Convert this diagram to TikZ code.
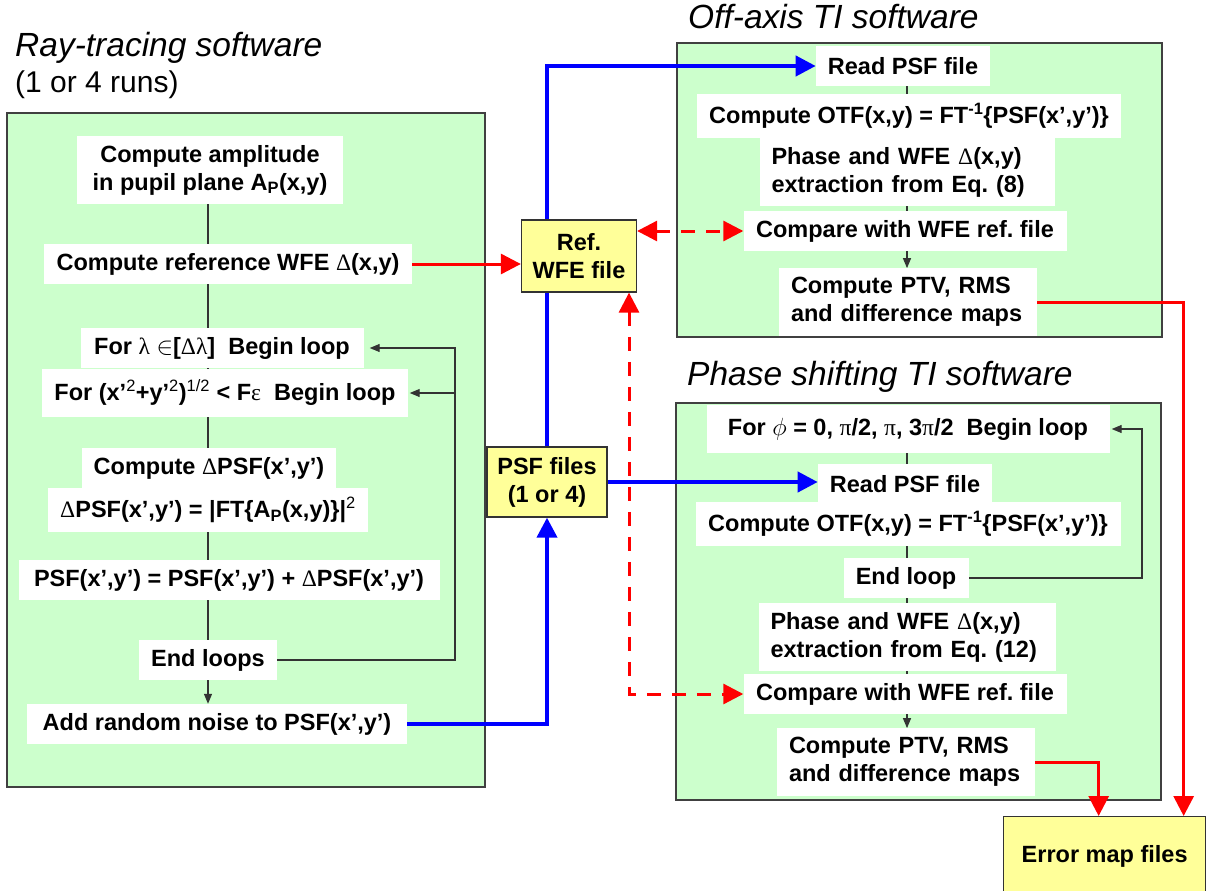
\documentclass[tikz,border=0pt]{standalone}
\usepackage{fontspec}
\setmainfont{Liberation Sans}
\newfontfamily\symf{Liberation Serif}
\usetikzlibrary{arrows.meta}
\frenchspacing

\pgfdeclarelayer{bg}
\pgfsetlayers{bg,main}

\definecolor{panelgreen}{RGB}{204,255,204}
\definecolor{fileyellow}{RGB}{255,255,153}
\definecolor{flowblue}{RGB}{0,0,255}
\definecolor{flowred}{RGB}{255,0,0}

% greek letters in a lighter serif face
\newcommand{\sy}[1]{{\symf\mdseries #1}}

\tikzset{
  panel/.style={draw=black!75, line width=1.5pt, fill=panelgreen},
  stepbox/.style={fill=white, inner xsep=12pt, inner ysep=9pt, minimum height=40pt,
    font=\fontsize{23.5}{28}\selectfont\bfseries},
  filebox/.style={draw=black!80, line width=1.3pt, fill=fileyellow, align=center,
    font=\fontsize{23.5}{28}\selectfont\bfseries},
  title/.style={anchor=west, inner sep=0pt, font=\fontsize{33.5}{36}\selectfont\itshape},
  link/.style={line width=1.2pt, black!80},
  linkarrow/.style={link, -{Triangle[length=10pt,width=8pt]}},
  bluearrow/.style={line width=4pt, flowblue, -{Triangle[length=20pt,width=20pt]}},
  redarrow/.style={line width=3pt, flowred, -{Triangle[length=20pt,width=20pt]}},
  reddashed/.style={line width=3pt, flowred, dash pattern=on 14pt off 11pt,
    {Triangle[length=20pt,width=20pt]}-{Triangle[length=20pt,width=20pt]}},
}

\begin{document}
\begin{tikzpicture}[x=1pt,y=-1pt]
  \useasboundingbox (0,0) rectangle (1210,891);

  % green panels
  \begin{pgfonlayer}{bg}
    \draw[panel] (7,113) rectangle (485,787);
    \draw[panel] (677,43) rectangle (1162,337);
    \draw[panel] (676,403) rectangle (1161,800);
  \end{pgfonlayer}

  % titles
  \node[title] (tray) at (15,48) {Ray-tracing software};
  \node[title, font=\fontsize{30}{34}\selectfont] (truns) at (15,85) {(1 or 4 runs)};
  \node[title] (toff) at (688,17) {Off-axis TI software};
  \node[title] (tpsi) at (687,377) {Phase shifting TI software};

  % vertical axes of the flow charts
  \coordinate (lspine) at (208,0);
  \coordinate (rspine) at (907,0);
  \coordinate (lloop) at (455,0);
  \coordinate (rloop) at (1142,0);
  \coordinate (dashx) at (629,0);

  % ray-tracing steps
  \node[stepbox, align=center, minimum width=266pt] (amp) at (210,170)
    {Compute amplitude\\in pupil plane A\textsubscript{P}(x,y)};
  \node[stepbox, minimum width=368pt] (ref) at (228,264) {Compute reference WFE \sy{Δ}(x,y)};
  \node[stepbox, minimum width=283pt, minimum height=39pt] (lam) at (222,348)
    {For \sy{λ} $\in$[\sy{Δλ}]\ \ Begin loop};
  \node[stepbox, minimum width=364pt, minimum height=48pt] (rho) at (225,393)
    {For (x’\textsuperscript{\mdseries 2}+y’\textsuperscript{\mdseries 2})\textsuperscript{\mdseries 1/2} < F\sy{ε}\ \ Begin loop};
  \node[stepbox, minimum width=254pt] (dpsf) at (209,468) {Compute \sy{Δ}PSF(x’,y’)};
  \node[stepbox, minimum width=317pt] (ftA) at (208,510)
    {\sy{Δ}PSF(x’,y’) = |FT\{A\textsubscript{P}(x,y)\}|\textsuperscript{\mdseries 2}};
  \node[stepbox, minimum width=421pt] (sum) at (229,580) {PSF(x’,y’) = PSF(x’,y’) + \sy{Δ}PSF(x’,y’)};
  \node[stepbox, minimum width=138pt] (endl) at (208,660) {End loops};
  \node[stepbox, minimum width=380pt] (noise) at (217,724) {Add random noise to PSF(x’,y’)};

  % off-axis steps
  \node[stepbox, minimum width=174pt] (read1) at (903,66) {Read PSF file};
  \node[stepbox, minimum width=422pt] (otf1) at (909,116)
    {Compute OTF(x,y) = FT\textsuperscript{-1}\{PSF(x’,y’)\}};
  \node[stepbox, align=left, text width=271pt] (phase1) at (907,172)
    {Phase and WFE \sy{Δ}(x,y)\\extraction from Eq. (8)};
  \node[stepbox, minimum width=323pt] (cmp1) at (905,231) {Compare with WFE ref. file};
  \node[stepbox, align=left, text width=234pt] (ptv1) at (908,302)
    {Compute PTV, RMS\\and difference maps};

  % phase shifting steps
  \node[stepbox, minimum width=403pt, minimum height=48pt] (phi) at (908,429)
    {For $\phi$ = 0, \sy{π}/2, \sy{π}, 3\sy{π}/2\ \ Begin loop};
  \node[stepbox, minimum width=174pt] (read2) at (905,484) {Read PSF file};
  \node[stepbox, minimum width=425pt] (otf2) at (908,524)
    {Compute OTF(x,y) = FT\textsuperscript{-1}\{PSF(x’,y’)\}};
  \node[stepbox, minimum width=125pt] (endl2) at (906,578) {End loop};
  \node[stepbox, align=left, text width=273pt] (phase2) at (907,637)
    {Phase and WFE \sy{Δ}(x,y)\\extraction from Eq. (12)};
  \node[stepbox, minimum width=323pt] (cmp2) at (905,694) {Compare with WFE ref. file};
  \node[stepbox, align=left, text width=234pt] (ptv2) at (906,762)
    {Compute PTV, RMS\\and difference maps};

  % data files
  \node[filebox, minimum width=115pt, minimum height=72pt] (refwfe) at (579,256) {Ref.\\WFE file};
  \node[filebox, minimum width=120pt, minimum height=70pt] (psf) at (547,482) {PSF files\\(1 or 4)};
  \node[filebox, minimum width=202pt, minimum height=79pt, anchor=north west] (err) at (1003,816)
    {Error map files};

  \begin{pgfonlayer}{bg}
    % step links
    \foreach \a/\b in {amp/ref, ref/lam, lam/rho, rho/dpsf, dpsf/ftA, ftA/sum, sum/endl}
      \draw[link] (\a.south -| lspine) -- (\b.north -| lspine);
    \draw[linkarrow] (endl.south -| lspine) -- (noise.north -| lspine);
    \foreach \a/\b in {read1/otf1, otf1/phase1, phase1/cmp1}
      \draw[link] (\a.south -| rspine) -- (\b.north -| rspine);
    \draw[linkarrow] (cmp1.south -| rspine) -- (ptv1.north -| rspine);
    \foreach \a/\b in {phi/read2, read2/otf2, otf2/endl2, endl2/phase2, phase2/cmp2}
      \draw[link] (\a.south -| rspine) -- (\b.north -| rspine);
    \draw[linkarrow] (cmp2.south -| rspine) -- (ptv2.north -| rspine);

    % loops
    \draw[linkarrow, shorten >=6pt] (endl.east) -| (lloop |- lam.east) -- (lam.east);
    \draw[linkarrow, shorten >=2pt] (lloop |- rho.east) -- (rho.east);
    \draw[linkarrow, shorten >=2pt] (endl2.east) -| (rloop |- phi.east) -- (phi.east);

    % PSF files
    \draw[bluearrow] (psf.north) |- (read1.west);
    \draw[bluearrow] (noise.east) -| (psf.south);
    \draw[bluearrow] (psf.east) -- (psf.east -| read2.west);

    % reference WFE
    \draw[redarrow] (ref.east) -- (ref.east -| refwfe.west);
    \draw[reddashed] (cmp1.west -| refwfe.east) -- (cmp1.west);
    \draw[reddashed] (refwfe.south -| dashx) |- (cmp2.west);

    % error maps
    \draw[redarrow] (ptv1.east) -| ([xshift=79pt]err.north);
    \draw[redarrow] (ptv2.east) -| ([xshift=-6pt]err.north);
  \end{pgfonlayer}
\end{tikzpicture}
\end{document}
